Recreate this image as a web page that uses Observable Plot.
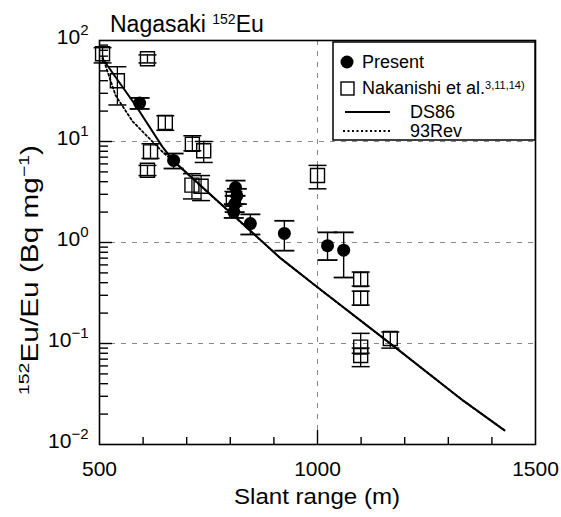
<!DOCTYPE html>
<html><head><meta charset="utf-8">
<script src="https://cdn.jsdelivr.net/npm/d3@7"></script>
<script src="https://cdn.jsdelivr.net/npm/@observablehq/plot@0.6"></script>
<style>body{margin:0;background:#fff} #chart{width:561px;height:517px}</style>
</head><body><div id="chart"></div>
<script>
// Present measurements (filled circles)
const presentX  = [592, 670, 812, 815, 810, 808, 846, 924, 1023, 1060];
const presentY  = [24, 6.5, 3.5, 2.9, 2.4, 2.0, 1.54, 1.23, 0.93, 0.84];
const presentLo = [21, 5.4, 2.9, 2.4, 2.0, 1.75, 1.2, 0.83, 0.67, 0.45];
const presentHi = [27, 7.6, 4.1, 3.4, 2.9, 2.4, 1.9, 1.64, 1.26, 1.26];
// Nakanishi et al. (open squares)
const nakX  = [507, 541, 610, 651, 617, 610, 713, 739, 712, 733, 807, 1000, 1099, 1099, 1099, 1099, 1167];
const nakY  = [74, 40, 66, 15.4, 7.9, 5.2, 9.4, 8.1, 3.7, 3.6, 2.7, 4.6, 0.43, 0.28, 0.092, 0.076, 0.112];
const nakLo = [60, 23, 60, 12.9, 6.8, 4.6, 8.1, 6.2, 2.7, 2.6, 2.3, 3.4, 0.37, 0.24, 0.08, 0.059, 0.09];
const nakHi = [85, 55, 72, 18, 9.5, 5.8, 11.4, 10, 4.8, 4.6, 3.2, 5.8, 0.51, 0.33, 0.126, 0.09, 0.13];
// DS86 calculation (solid line)
const ds86X = [507, 583, 644, 670, 915, 1000, 1179, 1335, 1429];
const ds86Y = [66, 22.7, 8.9, 6.4, 0.70, 0.36, 0.091, 0.027, 0.0138];
// 93Rev calculation (dotted line)
const rev93X = [507, 537, 576, 644, 680, 915, 1000, 1179, 1335, 1429];
const rev93Y = [69, 28.5, 15.8, 7.95, 5.8, 0.70, 0.36, 0.091, 0.027, 0.0138];
// ticks
const xTickLabels = [500, 1000, 1500];
const xMinorTicks = [600, 700, 800, 900, 1100, 1200, 1300, 1400];
const yTickLabels = [0.01, 0.1, 1, 10, 100];
const yGrid = [0.1, 1, 10];
const xGrid = [1000];

const yMinor = [];
for (const e of [-2, -1, 0, 1]) for (let m = 2; m <= 9; m++) yMinor.push(+(m * Math.pow(10, e)).toPrecision(3));

const present = presentX.map((x, i) => ({x, y: presentY[i], lo: presentLo[i], hi: presentHi[i]}));
const nak = nakX.map((x, i) => ({x, y: nakY[i], lo: nakLo[i], hi: nakHi[i]}));
const ds86 = ds86X.map((x, i) => ({x, y: ds86Y[i]}));
const rev93 = rev93X.map((x, i) => ({x, y: rev93Y[i]}));

const cap = {draw(ctx, size) { const r = Math.sqrt(size / Math.PI); ctx.moveTo(-r, 0); ctx.lineTo(r, 0); }};
const FONT = "'Liberation Sans', Arial, sans-serif";
const W = 561, H = 517, ML = 99, MR = 26, MT = 40, MB = 73;
const FW = W - ML - MR, FH = H - MT - MB;

const chart = Plot.plot({
  width: W, height: H,
  marginLeft: ML, marginRight: MR, marginTop: MT, marginBottom: MB,
  x: {domain: [500, 1500]},
  y: {type: "log", domain: [0.01, 100]},
  style: {fontFamily: FONT, background: "white", color: "black", overflow: "visible"},
  marks: [
    Plot.ruleX(xGrid, {x: d => d, stroke: "#888", strokeDasharray: "5,6", strokeWidth: 1}),
    Plot.ruleY(yGrid, {y: d => d, stroke: "#888", strokeDasharray: "5,6", strokeWidth: 1}),
    Plot.tickX(xMinorTicks, {x: d => d, insetTop: FH - 7, stroke: "black", strokeWidth: 1.4}),
    Plot.tickX(xGrid, {x: d => d, insetTop: FH - 14, stroke: "black", strokeWidth: 1.4}),
    Plot.tickY(yMinor, {y: d => d, insetRight: FW - 9, stroke: "black", strokeWidth: 1.4}),
    Plot.tickY(yGrid, {y: d => d, insetRight: FW - 13, stroke: "black", strokeWidth: 1.4}),
    Plot.axisX(xTickLabels, {tickSize: 0, tickPadding: 17, fontSize: 21, label: null, tickFormat: d => String(d)}),
    Plot.axisY(yTickLabels, {tickSize: 0, tickPadding: 11, fontSize: 21, label: null, dy: -3,
      tickFormat: d => "10^" + Math.round(Math.log10(d))}),
    Plot.line(rev93, {x: "x", y: "y", stroke: "black", strokeWidth: 1.8, strokeDasharray: "2,2.5"}),
    Plot.line(ds86, {x: "x", y: "y", stroke: "black", strokeWidth: 2}),
    Plot.ruleX(nak, {x: "x", y1: "lo", y2: "hi", stroke: "black", strokeWidth: 1.3}),
    Plot.dot(nak, {x: "x", y: "lo", symbol: cap, r: 9, stroke: "black", strokeWidth: 1.5}),
    Plot.dot(nak, {x: "x", y: "hi", symbol: cap, r: 9, stroke: "black", strokeWidth: 1.5}),
    Plot.dot(nak, {x: "x", y: "y", symbol: "square", r: 7.9, stroke: "black", fill: "none", strokeWidth: 1.4}),
    Plot.ruleX(present, {x: "x", y1: "lo", y2: "hi", stroke: "black", strokeWidth: 1.4}),
    Plot.dot(present, {x: "x", y: "lo", symbol: cap, r: 10, stroke: "black", strokeWidth: 1.8}),
    Plot.dot(present, {x: "x", y: "hi", symbol: cap, r: 10, stroke: "black", strokeWidth: 1.8}),
    Plot.dot(present, {x: "x", y: "y", r: 6.5, fill: "black", stroke: "none"}),
    Plot.frame({stroke: "black", strokeWidth: 1.6})
  ]
});
document.getElementById("chart").appendChild(chart);

const svg = d3.select(chart);
// superscript exponents on y tick labels
svg.selectAll("text").each(function() {
  const m = /^10\^(-?\d+)$/.exec(this.textContent);
  if (!m) return;
  const t = d3.select(this);
  t.text(null);
  t.append("tspan").text("10");
  t.append("tspan").attr("dy", -9).style("font-size", "15px").text(m[1].replace("-", "\u2212"));
});

// title
const title = svg.append("text").attr("x", 110).attr("y", 32).attr("text-anchor", "start")
  .style("font-family", FONT).style("font-size", "23px").attr("fill", "black");
title.append("tspan").text("Nagasaki ");
title.append("tspan").attr("dy", -8).style("font-size", "14px").text("152");
title.append("tspan").attr("dy", 8).text("Eu");

// axis labels
svg.append("text").attr("x", ML + FW / 2).attr("y", 504).attr("text-anchor", "middle")
  .attr("textLength", 166).attr("lengthAdjust", "spacingAndGlyphs")
  .style("font-family", FONT).style("font-size", "22px").attr("fill", "black")
  .text("Slant range (m)");
const yl = svg.append("text").attr("transform", "translate(38,270) rotate(-90)").attr("text-anchor", "middle")
  .attr("textLength", 250).attr("lengthAdjust", "spacingAndGlyphs")
  .style("font-family", FONT).style("font-size", "23px").attr("fill", "black");
yl.append("tspan").attr("dy", -9).style("font-size", "15px").text("152");
yl.append("tspan").attr("dy", 9).text("Eu/Eu (Bq mg");
yl.append("tspan").attr("dy", -9).style("font-size", "15px").text("\u22121");
yl.append("tspan").attr("dy", 9).text(")");

// legend
const lg = svg.append("g").style("font-family", FONT).attr("fill", "black").attr("text-anchor", "start");
lg.append("rect").attr("x", 333).attr("y", 42).attr("width", 202).attr("height", 98)
  .attr("fill", "white").attr("stroke", "black").attr("stroke-width", 1.5);
lg.append("circle").attr("cx", 347).attr("cy", 62).attr("r", 6.5).attr("fill", "black");
lg.append("text").attr("x", 362).attr("y", 68).style("font-size", "18px").text("Present");
lg.append("rect").attr("x", 341).attr("y", 82).attr("width", 13).attr("height", 13)
  .attr("fill", "none").attr("stroke", "black").attr("stroke-width", 1.4);
const nt = lg.append("text").attr("x", 362).attr("y", 94).style("font-size", "18px");
nt.append("tspan").text("Nakanishi et al.");
nt.append("tspan").attr("dy", -5).style("font-size", "11px").text("3,11,14)");
lg.append("line").attr("x1", 345).attr("x2", 390).attr("y1", 112).attr("y2", 112)
  .attr("stroke", "black").attr("stroke-width", 2);
lg.append("text").attr("x", 410).attr("y", 118).style("font-size", "18px").text("DS86");
lg.append("line").attr("x1", 343).attr("x2", 390).attr("y1", 131).attr("y2", 131)
  .attr("stroke", "black").attr("stroke-width", 1.8).attr("stroke-dasharray", "2,2.5");
lg.append("text").attr("x", 410).attr("y", 137).style("font-size", "18px").text("93Rev");
</script>
</body></html>
